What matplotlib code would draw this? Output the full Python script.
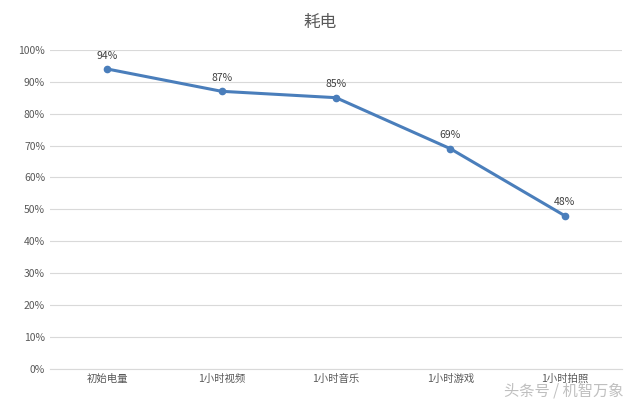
import matplotlib
matplotlib.use("Agg")
import matplotlib.pyplot as plt
from matplotlib.ticker import PercentFormatter

plt.rcParams['font.family'] = ['Noto Sans CJK SC', 'DejaVu Sans']

categories = ["初始电量", "1小时视频", "1小时音乐", "1小时游戏", "1小时拍照"]
values = [94, 87, 85, 69, 48]

fig = plt.figure(figsize=(6.4, 4.05), dpi=100)
ax = fig.add_axes([0.078, 0.089, 0.894, 0.788])
x = range(len(categories))
ax.plot(x, values, color='#4a7ebb', lw=2.2, marker='o', ms=4.5)
for xi, v in zip(x, values):
    ax.annotate(f"{v}%", (xi, v), xytext=(0, 6), textcoords='offset points',
                ha='center', va='bottom', fontsize=7.5, color='#404040')
ax.set_xlim(-0.5, len(categories) - 0.5)
ax.set_ylim(0, 100)
ax.set_yticks(range(0, 101, 10))
ax.yaxis.set_major_formatter(PercentFormatter(decimals=0))
ax.set_xticks(list(x))
ax.set_xticklabels(categories)
ax.tick_params(axis='both', length=0, labelsize=7.5, colors='#595959')
ax.grid(axis='y', color='#d9d9d9', lw=0.8)
ax.set_axisbelow(True)
for s in ['top', 'right', 'left']:
    ax.spines[s].set_visible(False)
ax.spines['bottom'].set_color('#d9d9d9')
fig.text(0.5, 0.945, "耗电", ha='center', va='center', fontsize=12, color='#595959')
fig.text(0.975, 0.035, "头条号 / 机智万象", ha='right', va='center', fontsize=11,
         color='#b0b0b0', alpha=0.8)
fig.savefig("out.png", dpi=100)
